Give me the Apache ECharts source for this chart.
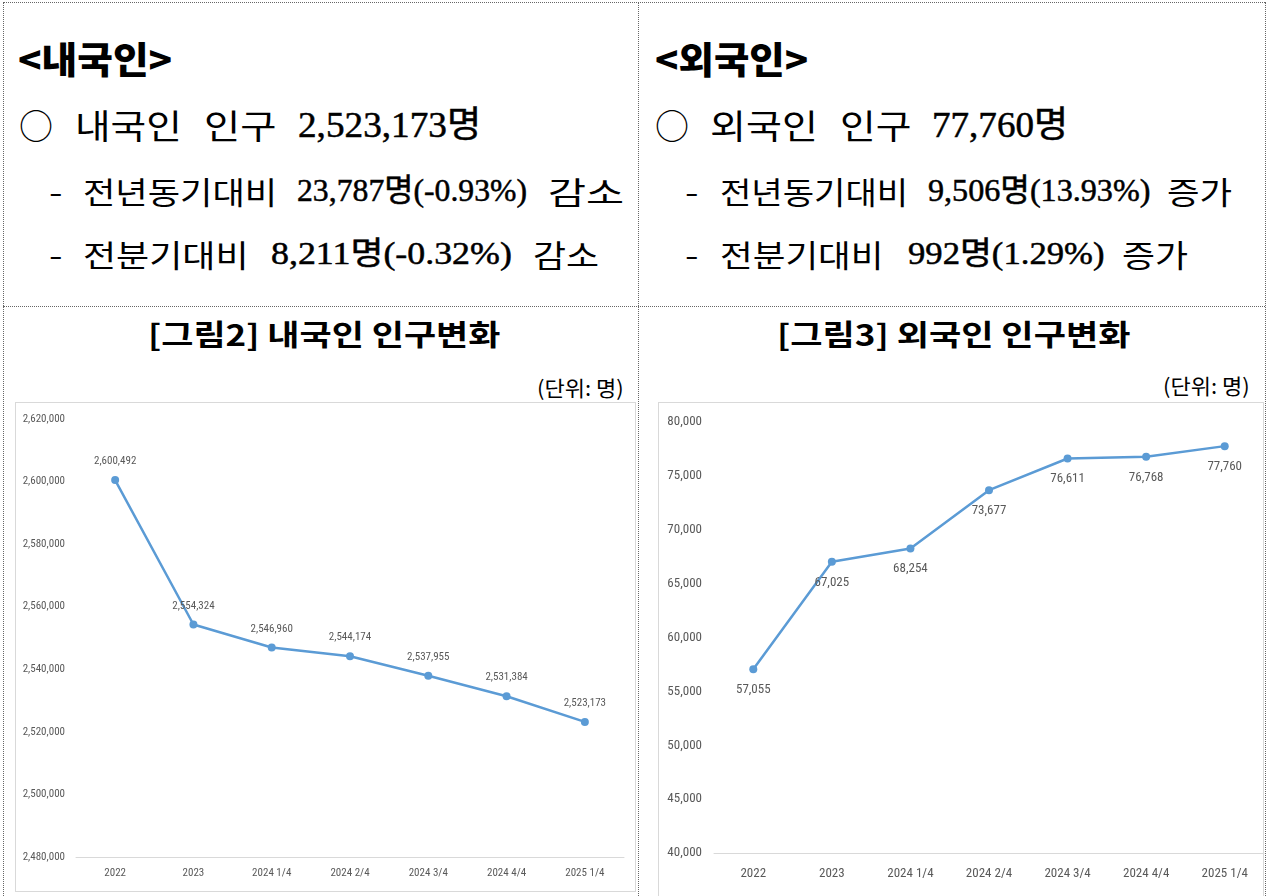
<!DOCTYPE html>
<html><head><meta charset="utf-8">
<script src="https://cdn.jsdelivr.net/npm/echarts@6/dist/echarts.min.js"></script>
<style>
html,body{margin:0;padding:0;background:#fff;width:1267px;height:896px;overflow:hidden;position:relative}
.ln{position:absolute;border:0 dotted #666}
.box{position:absolute;border:1px solid #d9d9d9;background:#fff}
.seg{position:absolute;white-space:pre;transform-origin:0 50%;line-height:1;color:#000}
.hd{font-family:"Noto Sans CJK KR";font-weight:900;font-size:37px}
.kr{font-family:"Noto Sans CJK KR";font-weight:400}
.num{font-family:"Liberation Serif","Noto Sans CJK KR";-webkit-text-stroke:0.5px #000}
.tt{font-family:"Noto Sans CJK KR";font-weight:700;font-size:29px}
.un{font-family:"Noto Sans CJK KR";font-weight:400;font-size:21px}
#chart{position:absolute;left:0;top:0;width:1267px;height:896px;z-index:5}
</style></head>
<body>
<div class="ln" style="left:3px;top:2px;width:1262px;height:0;border-top-width:1px"></div>
<div class="ln" style="left:3px;top:2px;width:0;height:894px;border-left-width:1px"></div>
<div class="ln" style="left:1265px;top:2px;width:0;height:894px;border-left-width:1px"></div>
<div class="ln" style="left:638px;top:2px;width:0;height:894px;border-left-width:1px"></div>
<div class="ln" style="left:3px;top:306px;width:1262px;height:0;border-top-width:1px"></div>
<div class="box" style="left:15px;top:402px;width:619px;height:488px"></div>
<div class="box" style="left:658px;top:402px;width:604px;height:500px"></div>
<div id="texts"></div>
<div id="chart"></div>
<script>
// ---- data ----
var categories = ['2022', '2023', '2024 1/4', '2024 2/4', '2024 3/4', '2024 4/4', '2025 1/4'];
var domesticValues = [2600492, 2554324, 2546960, 2544174, 2537955, 2531384, 2523173];
var foreignValues = [57055, 67025, 68254, 73677, 76611, 76768, 77760];
var domesticTicks = {min: 2480000, max: 2620000, interval: 20000};
var foreignTicks = {min: 40000, max: 80000, interval: 5000};

// ---- header texts (text, class, x, target width, center y, font size) ----
var segs = [
  ['<내국인>', 'hd', 18, 154, 58, 37],
  ['○', 'kr', 19, 34, 125, 34],
  ['내국인', 'kr', 75, 107, 125, 34],
  ['인구', 'kr', 204, 73, 125, 34],
  ['2,523,173명', 'num', 298, 183, 125, 36],
  ['-', 'kr', 49, 13, 190, 30],
  ['전년동기대비', 'kr', 83, 194, 190, 31],
  ['23,787명(-0.93%)', 'num', 297, 230, 190, 32],
  ['감소', 'kr', 548, 76, 190, 31],
  ['-', 'kr', 49, 13, 253, 30],
  ['전분기대비', 'kr', 83, 166, 253, 31],
  ['8,211명(-0.32%)', 'num', 271, 241, 253, 32],
  ['감소', 'kr', 533, 66, 253, 31],
  ['<외국인>', 'hd', 655, 153, 58, 37],
  ['○', 'kr', 655, 34, 125, 34],
  ['외국인', 'kr', 710, 108, 125, 34],
  ['인구', 'kr', 840, 72, 125, 34],
  ['77,760명', 'num', 932, 136, 125, 36],
  ['-', 'kr', 685, 13, 190, 30],
  ['전년동기대비', 'kr', 720, 188, 190, 31],
  ['9,506명(13.93%)', 'num', 928, 222, 190, 32],
  ['증가', 'kr', 1167, 65, 190, 31],
  ['-', 'kr', 685, 13, 253, 30],
  ['전분기대비', 'kr', 720, 164, 253, 31],
  ['992명(1.29%)', 'num', 908, 196, 253, 32],
  ['증가', 'kr', 1122, 66, 253, 31],
  ['[그림2] 내국인 인구변화', 'tt', 148, 352, 333, 29],
  ['[그림3] 외국인 인구변화', 'tt', 777, 353, 333, 29],
  ['(단위: 명)', 'un', 537, 87, 387, 21],
  ['(단위: 명)', 'un', 1163, 87, 385, 21]
];
var host = document.getElementById('texts');
segs.forEach(function (s) {
  var d = document.createElement('div');
  d.className = 'seg ' + s[1];
  d.textContent = s[0];
  d.style.fontSize = s[5] + 'px';
  d.style.left = s[2] + 'px';
  host.appendChild(d);
  var w = d.offsetWidth, h = d.offsetHeight;
  d.style.top = (s[4] - h / 2) + 'px';
  d.style.transform = 'scaleX(' + (s[3] / w) + ')';
});

// ---- charts ----
var axisFont = '"Liberation Sans Narrow","Roboto Condensed","Liberation Sans",sans-serif';
var blue = '#5b9bd5';
function fmt(v) { return v.toLocaleString('en-US'); }
var chart = echarts.init(document.getElementById('chart'), null, {renderer: 'canvas'});
chart.setOption({
  animation: false,
  grid: [
    {left: 76, top: 419, width: 548, height: 438},
    {left: 714, top: 422, width: 550, height: 431}
  ],
  xAxis: [
    {type: 'category', gridIndex: 0, data: categories, boundaryGap: true,
     axisLine: {lineStyle: {color: '#d9d9d9', width: 1}}, axisTick: {show: false},
     axisLabel: {color: '#595959', fontFamily: axisFont, fontSize: 11, margin: 11}},
    {type: 'category', gridIndex: 1, data: categories, boundaryGap: true,
     axisLine: {lineStyle: {color: '#d9d9d9', width: 1}}, axisTick: {show: false},
     axisLabel: {color: '#595959', fontFamily: axisFont, fontSize: 13, margin: 14}}
  ],
  yAxis: [
    {type: 'value', gridIndex: 0, min: domesticTicks.min, max: domesticTicks.max, interval: domesticTicks.interval,
     splitLine: {show: false}, axisLine: {show: false}, axisTick: {show: false},
     axisLabel: {color: '#595959', fontFamily: axisFont, fontSize: 11, margin: 11, formatter: fmt}},
    {type: 'value', gridIndex: 1, min: foreignTicks.min, max: foreignTicks.max, interval: foreignTicks.interval,
     splitLine: {show: false}, axisLine: {show: false}, axisTick: {show: false},
     axisLabel: {color: '#595959', fontFamily: axisFont, fontSize: 13, margin: 12, formatter: fmt}}
  ],
  series: [
    {type: 'line', xAxisIndex: 0, yAxisIndex: 0, data: domesticValues,
     symbol: 'circle', symbolSize: 8, lineStyle: {color: blue, width: 2.5}, itemStyle: {color: blue},
     label: {show: true, position: 'top', distance: 9, color: '#595959', fontFamily: axisFont, fontSize: 11,
       formatter: function (p) { return fmt(p.value); }}},
    {type: 'line', xAxisIndex: 1, yAxisIndex: 1, data: foreignValues,
     symbol: 'circle', symbolSize: 8, lineStyle: {color: blue, width: 2.5}, itemStyle: {color: blue},
     label: {show: true, position: 'bottom', distance: 10, color: '#595959', fontFamily: axisFont, fontSize: 13,
       formatter: function (p) { return fmt(p.value); }}}
  ]
});
</script>
</body></html>
